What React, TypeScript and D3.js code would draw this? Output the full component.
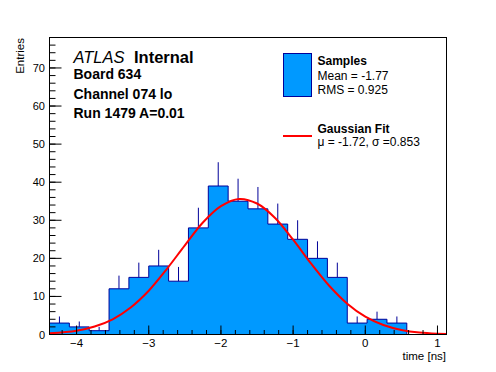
import * as d3 from "d3";

// histogram "Samples": bin edges and counts
const binEdges = [
  -4.375, -4.1, -3.825, -3.55, -3.275, -3.0, -2.725, -2.45, -2.175, -1.9, -1.625,
  -1.35, -1.075, -0.8, -0.525, -0.25, 0.025, 0.3, 0.575, 0.85, 1.125,
];
const binCounts = [3, 2, 1, 12, 15, 18, 14, 28, 39, 35, 33, 29, 25, 20, 15, 3, 4, 3, 0, 0];

// gaussian fit curve
const fitX = [
  -4.375, -4, -3.75, -3.5, -3.25, -3, -2.75, -2.5, -2.25, -2, -1.75, -1.5, -1.25, -1,
  -0.75, -0.5, -0.25, 0, 0.25, 0.5, 0.75, 1, 1.125,
];
const fitY = [
  0.3, 1.0, 2.1, 4.0, 7.1, 11.5, 17.2, 23.4, 29.4, 33.7, 35.6, 34.4, 30.6, 24.9, 18.6,
  12.8, 8.1, 4.7, 2.5, 1.2, 0.5, 0.2, 0.15,
];

const xTickLabels = [-4, -3, -2, -1, 0, 1];
const yTickLabels = [0, 10, 20, 30, 40, 50, 60, 70];
const yMax = 78;

const headerLines = ["Board 634", "Channel 074 lo", "Run 1479 A=0.01"];

const W = 496;
const H = 372;
const m = { left: 49.5, right: 446.5, top: 37.5, bottom: 334.5 };
const font = "'Liberation Sans', Arial, Helvetica, sans-serif";
const fillBlue = "#0099ff";
const lineBlue = "#000099";

export default function App() {
  const x = d3.scaleLinear().domain([binEdges[0], binEdges[binEdges.length - 1]]).range([m.left, m.right]);
  const y = d3.scaleLinear().domain([0, yMax]).range([m.bottom, m.top]);

  // step outline of the histogram
  const stepPts: [number, number][] = [[x(binEdges[0]), y(0)]];
  binCounts.forEach((c, i) => {
    stepPts.push([x(binEdges[i]), y(c)]);
    stepPts.push([x(binEdges[i + 1]), y(c)]);
  });
  stepPts.push([x(binEdges[binEdges.length - 1]), y(0)]);
  const stepPath = d3.line()(stepPts) as string;

  const fitLine = d3
    .line<number>()
    .x((_, i) => x(fitX[i]))
    .y((d) => y(d))
    .curve(d3.curveCatmullRom)(fitY) as string;

  const xMinor = d3.range(-4.2, 1.13, 0.2).filter((v) => v >= binEdges[0]);
  const yMinor = d3.range(0, yMax + 0.01, 2);
  const xMajLen = 9;
  const yMajLen = 12;

  return (
    <svg
      width={W}
      height={H}
      style={{ position: "absolute", left: 0, top: 0, background: "#fff" }}
      fontFamily={font}
    >
      <rect x={0} y={0} width={W} height={H} fill="#fff" />

      {/* error bars (upper half visible above bars) */}
      {binCounts.map((c, i) =>
        c > 0 ? (
          <line
            key={"e" + i}
            x1={x((binEdges[i] + binEdges[i + 1]) / 2)}
            x2={x((binEdges[i] + binEdges[i + 1]) / 2)}
            y1={y(c)}
            y2={y(c + Math.sqrt(c))}
            stroke={lineBlue}
            strokeWidth={1}
          />
        ) : null
      )}

      {/* filled bins as one shape, then the outline */}
      <path d={stepPath + "Z"} fill={fillBlue} stroke="none" />
      <path d={stepPath} fill="none" stroke={lineBlue} strokeWidth={1} />

      {/* fit */}
      <path d={fitLine} fill="none" stroke="#ff0000" strokeWidth={2} />

      {/* frame */}
      <rect x={m.left} y={m.top} width={m.right - m.left} height={m.bottom - m.top} fill="none" stroke="#000" />

      {/* x ticks */}
      {xMinor.map((v, i) => (
        <line key={"xm" + i} x1={x(v)} x2={x(v)} y1={m.bottom} y2={m.bottom - xMajLen / 2} stroke="#000" />
      ))}
      {xTickLabels.map((v) => (
        <g key={"xt" + v}>
          <line x1={x(v)} x2={x(v)} y1={m.bottom} y2={m.bottom - xMajLen} stroke="#000" />
          <text x={x(v)} y={347} fontSize={11.5} textAnchor="middle">
            {v < 0 ? "\u2212" + Math.abs(v) : String(v)}
          </text>
        </g>
      ))}
      <text x={446} y={360} fontSize={11.5} textAnchor="end">
        time [ns]
      </text>

      {/* y ticks */}
      {yMinor.map((v, i) => (
        <line key={"ym" + i} x1={m.left} x2={m.left + yMajLen / 2} y1={y(v)} y2={y(v)} stroke="#000" />
      ))}
      {yTickLabels.map((v) => (
        <g key={"yt" + v}>
          <line x1={m.left} x2={m.left + yMajLen} y1={y(v)} y2={y(v)} stroke="#000" />
          <text x={45} y={y(v) + 4} fontSize={11} textAnchor="end">
            {v}
          </text>
        </g>
      ))}
      <text transform={`translate(24,38) rotate(-90)`} fontSize={11.5} textAnchor="end">
        Entries
      </text>

      {/* header */}
      <text x={73.5} y={62.5} fontSize={16.5}>
        <tspan fontStyle="italic">ATLAS</tspan>
      </text>
      <text x={134} y={62.5} fontSize={16.5} fontWeight="bold">
        Internal
      </text>
      {headerLines.map((t, i) => (
        <text key={t} x={73.5} y={79 + i * 19.5} fontSize={14} fontWeight="bold">
          {t}
        </text>
      ))}

      {/* legend */}
      <rect x={283.5} y={53.5} width={28} height={43} fill={fillBlue} stroke={lineBlue} />
      <text x={317.5} y={65} fontSize={12} fontWeight="bold">Samples</text>
      <text x={317.5} y={80} fontSize={12}>Mean = -1.77</text>
      <text x={317.5} y={93.5} fontSize={12}>RMS = 0.925</text>
      <line x1={283} x2={312} y1={136} y2={136} stroke="#ff0000" strokeWidth={2} />
      <text x={317.5} y={132.5} fontSize={12} fontWeight="bold">Gaussian Fit</text>
      <text x={317.5} y={145.5} fontSize={12}>{"\u03bc = -1.72, \u03c3 =0.853"}</text>
    </svg>
  );
}
